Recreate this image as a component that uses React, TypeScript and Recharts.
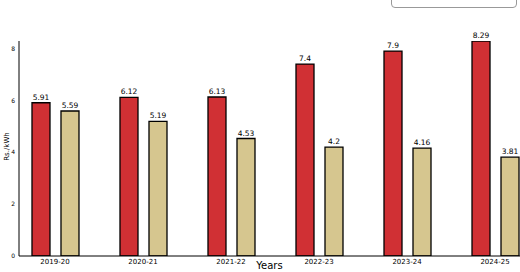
import { BarChart, Bar, XAxis, YAxis, Legend, LabelList } from 'recharts'

const years = ['2019-20', '2020-21', '2021-22', '2022-23', '2023-24', '2024-25']
const redValues = [5.91, 6.12, 6.13, 7.4, 7.9, 8.29]
const tanValues = [5.59, 5.19, 4.53, 4.2, 4.16, 3.81]
const yTicks = [0, 2, 4, 6, 8]

const data = years.map((y, i) => ({ x: i, year: y, red: redValues[i], tan: tanValues[i] }))

const font = '"DejaVu Sans", sans-serif'

// legend box sits mostly above the visible area, only its lower edge shows
const LegendBox = () => <div style={{ width: 124, height: 19 }} />

export default function App() {
  return (
    <div style={{ position: 'fixed', left: 0, top: 0, width: 520, height: 272, overflow: 'hidden', background: '#fff' }}>
      <BarChart
        width={520}
        height={272}
        data={data}
        barGap={11}
        margin={{ top: 20, right: 0, bottom: 0, left: 0 }}
        style={{ fontFamily: font }}
      >
        <Legend
          verticalAlign="top"
          align="right"
          content={<LegendBox />}
          wrapperStyle={{
            top: -13, left: 391, width: 124, height: 19, border: '1px solid #999',
            borderRadius: 4, background: '#fff',
          }}
        />
        <XAxis
          type="number"
          dataKey="x"
          domain={[-0.409, 5.284]}
          allowDataOverflow
          ticks={[0, 1, 2, 3, 4, 5]}
          tickFormatter={(v: number) => years[v] ?? ''}
          tick={{ fontSize: 7, fill: '#000' }}
          tickLine={false}
          tickSize={1}
          tickMargin={2}
          height={16}
          axisLine={{ stroke: '#000', strokeWidth: 1 }}
          label={{ value: 'Years', position: 'insideBottom', offset: 3, fontSize: 10, fill: '#000' }}
        />
        <YAxis
          domain={[0, 8.29]}
          ticks={yTicks}
          allowDataOverflow
          width={19}
          tick={{ fontSize: 6, fill: '#000' }}
          tickLine={false}
          tickSize={2}
          tickMargin={2}
          axisLine={{ stroke: '#000', strokeWidth: 1 }}
          label={{ value: 'Rs./kWh', angle: -90, position: 'center', dx: -3, dy: -2, fontSize: 7, fill: '#000' }}
        />
        <Bar dataKey="red" name="Avg. Power Purchase Cost" fill="#d03034" stroke="#000" strokeWidth={1.3} barSize={18} isAnimationActive={false}>
          <LabelList dataKey="red" position="top" offset={3} fontSize={7.5} fill="#000" />
        </Bar>
        <Bar dataKey="tan" name="Renewable Energy Tariff" fill="#d6c68f" stroke="#000" strokeWidth={1.3} barSize={18} isAnimationActive={false}>
          <LabelList dataKey="tan" position="top" offset={3} fontSize={7.5} fill="#000" />
        </Bar>
      </BarChart>
    </div>
  )
}
